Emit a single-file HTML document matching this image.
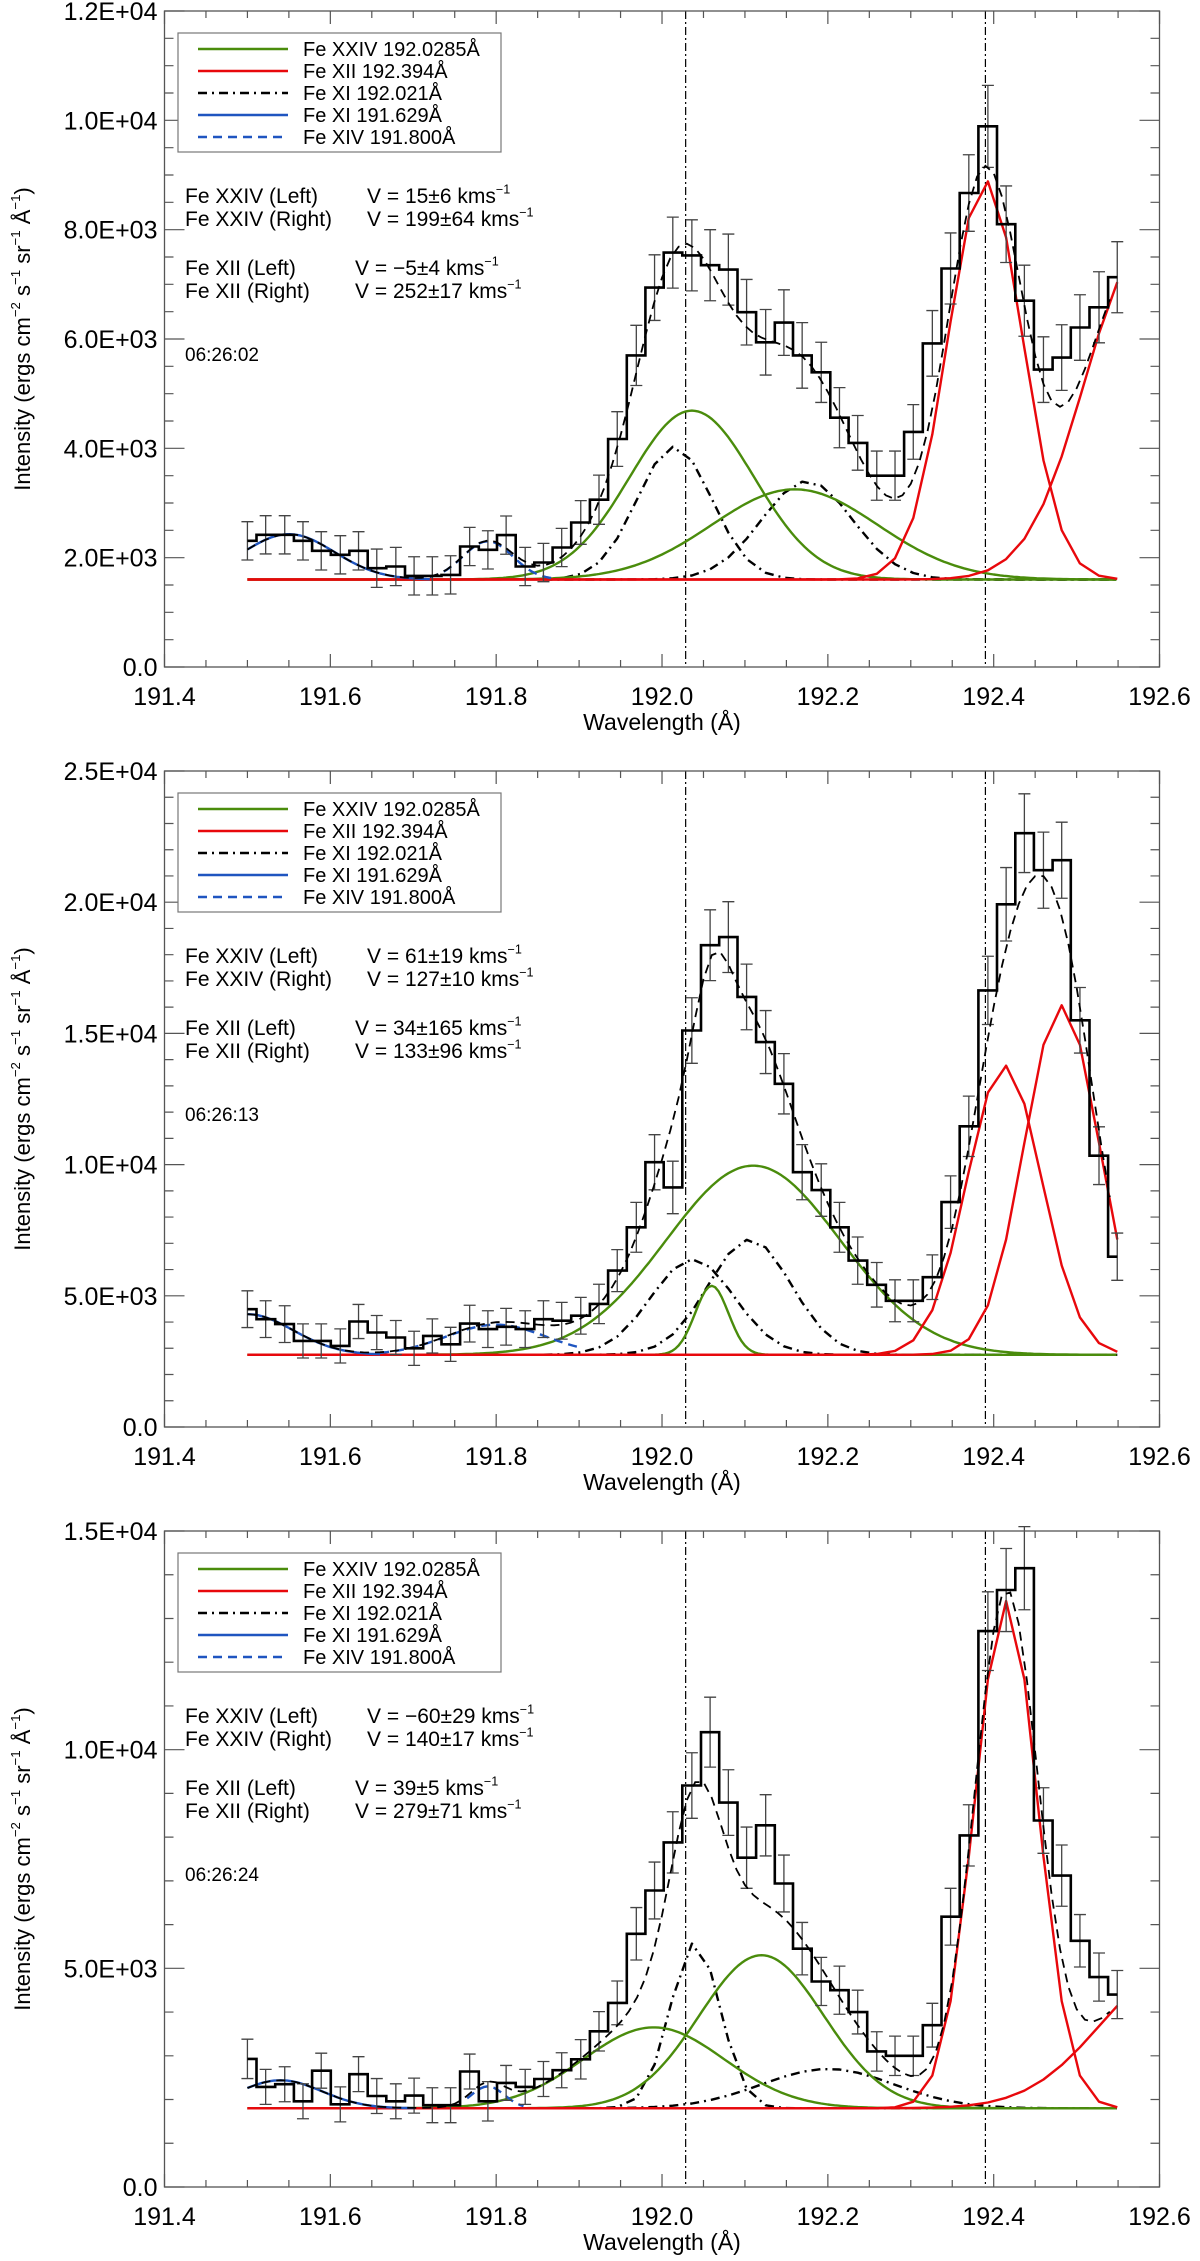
<!DOCTYPE html>
<html><head><meta charset="utf-8">
<style>
html,body{margin:0;padding:0;background:#fff;}
svg{display:block;font-family:"Liberation Sans",Arial,sans-serif;}
</style></head>
<body>
<svg id="fig" width="1200" height="2261" viewBox="0 0 1200 2261" xmlns="http://www.w3.org/2000/svg"></svg>
<script>
// shared wavelength grid (bin centers, Å)
const wavelengths = [191.500,191.522,191.545,191.567,191.589,191.612,191.634,191.656,191.679,191.701,191.723,191.745,191.768,191.790,191.812,191.835,191.857,191.879,191.902,191.924,191.946,191.969,191.991,192.013,192.036,192.058,192.080,192.102,192.125,192.147,192.169,192.192,192.214,192.236,192.259,192.281,192.303,192.326,192.348,192.370,192.393,192.415,192.437,192.460,192.482,192.504,192.527,192.549];
const xTicks = [191.4,191.6,191.8,192.0,192.2,192.4,192.6];
const refLines = [192.0285,192.39];

// Panel 1 (06:26:02)
const p1Intensity = [2308,2418,2418,2308,2125,2052,2125,1807,1838,1667,1667,1685,2204,2143,2412,1838,1911,2186,2644,3060,4170,5700,6940,7580,7530,7350,7270,6490,5940,6300,5700,5390,4560,4100,3500,3500,4300,5920,7290,8670,9890,8100,6700,5440,5660,6210,6580,7130];
const p1Errors = [350,350,350,350,350,350,350,350,350,350,350,350,350,350,350,350,350,350,400,450,500,550,600,650,650,650,650,600,600,600,600,550,550,500,450,450,500,600,650,700,750,700,650,600,600,600,650,650];
const p1Background = 1600;
const p1YTicks = [0,2000,4000,6000,8000,10000,12000];
const p1YLabels = ["0.0","2.0E+03","4.0E+03","6.0E+03","8.0E+03","1.0E+04","1.2E+04"];
// gaussian params: [center, amplitude, sigma]
const p1FeXXIV = [[192.036,3090,0.075],[192.16,1650,0.1]];
const p1FeXII = [[192.39,7300,0.045],[192.58,6000,0.07]];
const p1FeXI192 = [[192.015,2430,0.045],[192.175,1800,0.055]];
const p1FeXI191 = [[191.55,830,0.055]];
const p1FeXIV = [[191.79,700,0.03]];

// Panel 2 (06:26:13)
const p2Intensity = [4490,4110,3920,3280,3280,3090,4020,3600,3410,2998,3470,3150,3940,3730,3820,3730,4110,4050,4240,4690,5960,7610,10090,9130,15110,18360,18670,16390,14670,13080,9710,9030,7610,6340,5420,4810,4810,5710,8570,11460,16640,19920,22630,21220,21600,15500,10340,6490];
const p2Errors = [700,700,700,650,650,650,650,650,650,650,650,650,700,700,700,700,700,700,700,750,800,950,1050,1000,1250,1350,1350,1250,1200,1150,1050,1000,950,900,850,800,800,850,1000,1150,1300,1400,1500,1450,1450,1250,1100,900];
const p2Background = 2750;
const p2YTicks = [0,5000,10000,15000,20000,25000];
const p2YLabels = ["0.0","5.0E+03","1.0E+04","1.5E+04","2.0E+04","2.5E+04"];
const p2FeXXIV = [[192.11,7210,0.105],[192.06,2630,0.02]];
const p2FeXII = [[192.413,11030,0.045],[192.482,13320,0.045]];
const p2FeXI192 = [[192.037,3650,0.05],[192.106,4400,0.05]];
const p2FeXI191 = [[191.5,1550,0.055]];
const p2FeXIV = [[191.80,1150,0.06]];

// Panel 3 (06:26:24)
const p3Intensity = [2930,2290,2350,1960,2660,1890,2580,2080,1960,2090,1870,1870,2640,1960,2380,2290,2470,2670,2920,3560,4210,5790,6780,7880,9180,10400,8790,7530,8270,6940,5450,4700,4500,4000,3100,3000,3000,3700,6180,8040,12710,13650,14150,8380,7120,5630,4800,4400];
const p3Errors = [450,400,400,400,400,400,400,400,400,400,400,400,400,450,400,400,400,400,450,450,500,600,650,700,750,800,750,700,700,650,600,550,550,500,450,450,450,500,650,700,900,950,950,750,700,600,550,550];
const p3Background = 1800;
const p3YTicks = [0,5000,10000,15000];
const p3YLabels = ["0.0","5.0E+03","1.0E+04","1.5E+04"];
const p3FeXXIV = [[191.99,1850,0.085],[192.12,3500,0.075]];
const p3FeXII = [[192.415,11600,0.038],[192.62,3200,0.09]];
const p3FeXI192 = [[192.04,3800,0.03],[192.2,900,0.08]];
const p3FeXI191 = [[191.54,640,0.05]];
const p3FeXIV = [[191.79,500,0.02]];

const NS = "http://www.w3.org/2000/svg";
const svg = document.getElementById('fig');
function mk(tag, attrs, parent){
  const e = document.createElementNS(NS, tag);
  for (const k in attrs) e.setAttribute(k, attrs[k]);
  (parent||svg).appendChild(e);
  return e;
}
const X0 = 164.5, XS = 829.2, PW = 995, PH = 656;
const GREEN = "#4a8c0c", RED = "#e8080c", BLUE = "#1f55c0";
const gauss = (x, p) => p[1]*Math.exp(-0.5*Math.pow((x-p[0])/p[2],2));

function supText(parent, x, y, parts, size){
  const t = mk('text', {x:x, y:y, 'font-size':size, fill:'#000'}, parent);
  parts.forEach(pt => {
    const s = mk('tspan', {}, t);
    if (pt[1]) { s.setAttribute('font-size', size*0.6); s.setAttribute('dy', -size*0.45); }
    else if (pt[2]) { s.setAttribute('dy', size*0.45); }
    s.textContent = pt[0];
  });
  return t;
}

const panels = [
  {top:11, ymax:12000, minor:500, data:p1Intensity, err:p1Errors, bg:p1Background, yt:p1YTicks, yl:p1YLabels, g:p1FeXXIV, r:p1FeXII, k:p1FeXI192, b:p1FeXI191, d:p1FeXIV, bRange:[191.5,191.72], dRange:[191.72,191.87],
   ann:[["Fe XXIV (Left)","15±6"],["Fe XXIV (Right)","199±64"],["Fe XII (Left)","−5±4"],["Fe XII (Right)","252±17"]], time:"06:26:02"},
  {top:771, ymax:25000, minor:1000, data:p2Intensity, err:p2Errors, bg:p2Background, yt:p2YTicks, yl:p2YLabels, g:p2FeXXIV, r:p2FeXII, k:p2FeXI192, b:p2FeXI191, d:p2FeXIV, bRange:[191.5,191.66], dRange:[191.66,191.9],
   ann:[["Fe XXIV (Left)","61±19"],["Fe XXIV (Right)","127±10"],["Fe XII (Left)","34±165"],["Fe XII (Right)","133±96"]], time:"06:26:13"},
  {top:1531, ymax:15000, minor:1000, data:p3Intensity, err:p3Errors, bg:p3Background, yt:p3YTicks, yl:p3YLabels, g:p3FeXXIV, r:p3FeXII, k:p3FeXI192, b:p3FeXI191, d:p3FeXIV, bRange:[191.5,191.7], dRange:[191.765,191.835],
   ann:[["Fe XXIV (Left)","−60±29"],["Fe XXIV (Right)","140±17"],["Fe XII (Left)","39±5"],["Fe XII (Right)","279±71"]], time:"06:26:24"}
];

panels.forEach((P, pi) => {
  const T = P.top, B = T + PH;
  const xs = w => X0 + (w - 191.4) * XS;
  const ys = v => B - v / P.ymax * PH;
  const g = mk('g', {});
  
  

  refLines.forEach((w, i) => {
    const l = mk('line', {x1:xs(w), x2:xs(w), y1:T, y2:B, stroke:'#000', 'stroke-width':1.2, 'stroke-dasharray':'8 3 2 3'}, g);
    
    
  });

  function curve(params, color, dash, name, range, fine){
    params.forEach((p, i) => {
      let pts = [];
      if (fine) {
        for (let w = range[0]; w <= range[1] + 1e-9; w += 0.004) pts.push(xs(w).toFixed(1)+','+ys(P.bg+gauss(w,p)).toFixed(1));
      } else {
        wavelengths.forEach(w => { if (w >= range[0]-1e-6 && w <= range[1]+1e-6) pts.push(xs(w).toFixed(1)+','+ys(P.bg+gauss(w,p)).toFixed(1)); });
      }
      const pl = mk('polyline', {points:pts.join(' '), fill:'none', stroke:color, 'stroke-width':2.4, 'stroke-dasharray':dash||'none', 'stroke-linejoin':'round'}, g);
      
      
    });
  }
  curve(P.k, '#000', '9 5 2 5', 'fe-xi-192021-fit', [191.85,192.549], false);
  curve(P.g, GREEN, null, 'fe-xxiv-fit', [191.5,192.549], true);
  curve(P.r, RED, null, 'fe-xii-fit', [191.5,192.549], false);
  curve(P.b, BLUE, null, 'fe-xi-191629-fit', P.bRange, true);
  curve(P.d, BLUE, '9 6', 'fe-xiv-fit', P.dRange, true);

  wavelengths.forEach((w, i) => {
    const x = xs(w), v = P.data[i], e = P.err[i];
    const eb = mk('path', {d:`M${x},${ys(v-e)}V${ys(v+e)}M${x-6},${ys(v-e)}H${x+6}M${x-6},${ys(v+e)}H${x+6}`, stroke:'#444', 'stroke-width':1.3, fill:'none'}, g);
    
    
  });

  let d = '';
  wavelengths.forEach((w, i) => {
    const prev = i === 0 ? w : wavelengths[i-1];
    const next = i === wavelengths.length-1 ? w : wavelengths[i+1];
    const xl = i === 0 ? xs(w) : xs((w+prev)/2);
    const xr = i === wavelengths.length-1 ? xs(w) : xs((w+next)/2);
    d += (i === 0 ? 'M' : 'L') + xl.toFixed(1) + ',' + ys(P.data[i]).toFixed(1) + 'L' + xr.toFixed(1) + ',' + ys(P.data[i]).toFixed(1);
  });
  const h = mk('path', {d:d, fill:'none', stroke:'#000', 'stroke-width':2.6}, g);
  
  

  const tp = [];
  for (let w = 191.5; w <= 192.5495; w += 0.01) {
    let s = P.bg;
    [].concat(P.g, P.r, P.k, P.b, P.d).forEach(p => s += gauss(w,p));
    tp.push(xs(w).toFixed(1)+','+ys(s).toFixed(1));
  }
  const tl = mk('polyline', {points:tp.join(' '), fill:'none', stroke:'#000', 'stroke-width':1.8, 'stroke-dasharray':'9 6'}, g);
  
  

  const fr = mk('rect', {x:X0, y:T, width:PW, height:PH, fill:'none', stroke:'#555', 'stroke-width':1.3}, g);
  
  

  for (let w = 191.4; w <= 192.6001; w += 0.05) {
    const major = Math.abs(Math.round(w*5) - w*5) < 1e-6;
    const L = major ? 13 : 7, x = xs(w);
    mk('path', {d:`M${x},${B}V${B-L}M${x},${T}V${T+L}`, stroke:'#555', 'stroke-width':1.2}, g);
  }
  xTicks.forEach(w => {
    const t = mk('text', {x:xs(w), y:B+38, 'font-size':25, 'text-anchor':'middle', fill:'#000'}, g);
    
    
    t.textContent = w.toFixed(1);
  });
  const xt = mk('text', {x:X0+PW/2, y:B+63, 'font-size':23, 'text-anchor':'middle', fill:'#000'}, g);
  
  
  xt.textContent = 'Wavelength (Å)';

  for (let v = 0; v <= P.ymax + 1e-6; v += P.minor) {
    const major = P.yt.indexOf(v) >= 0;
    const L = major ? 20 : 9, y = ys(v);
    mk('path', {d:`M${X0},${y}H${X0+L}M${X0+PW},${y}H${X0+PW-L}`, stroke:'#555', 'stroke-width':1.2}, g);
  }
  P.yt.forEach((v, i) => {
    const t = mk('text', {x:X0-7, y:ys(v)+9, 'font-size':25, 'text-anchor':'end', fill:'#000'}, g);
    
    
    t.textContent = P.yl[i];
  });
  const yt = supText(g, 0, 0, [["Intensity (ergs cm"],["−2",1],[" s",0,1],["−1",1],[" sr",0,1],["−1",1],[" Å",0,1],["−1",1],[")",0,1]], 22);
  yt.setAttribute('text-anchor', 'middle');
  yt.setAttribute('transform', `translate(30,${T+PH/2}) rotate(-90)`);
  
  

  const lg = mk('g', {}, g);
  
  
  mk('rect', {x:178, y:T+22, width:323, height:119, fill:'#fff', stroke:'#777', 'stroke-width':1.2}, lg);
  const entries = [["Fe XXIV 192.0285Å",GREEN,'none'],["Fe XII 192.394Å",RED,'none'],["Fe XI 192.021Å","#000",'9 5 2 5'],["Fe XI 191.629Å",BLUE,'none'],["Fe XIV 191.800Å",BLUE,'9 6']];
  entries.forEach((e, i) => {
    const y = T + 38 + i*22;
    const le = mk('g', {}, lg);
    
    
    mk('line', {x1:198, x2:288, y1:y, y2:y, stroke:e[1], 'stroke-width':2.4, 'stroke-dasharray':e[2]}, le);
    const t = mk('text', {x:303, y:y+7, 'font-size':20, fill:'#000'}, le);
    t.textContent = e[0];
  });

  const ay = [184, 207, 256, 279];
  P.ann.forEach((a, i) => {
    const t1 = mk('text', {x:185, y:T+ay[i]+8, 'font-size':21, fill:'#000'}, g);
    
    
    t1.textContent = a[0];
    const vx = i < 2 ? 367 : 355;
    const t2 = supText(g, vx, T+ay[i]+8, [["V = " + a[1] + " kms"],["−1",1]], 21);
    
    
  });
  const tm = mk('text', {x:185, y:T+350, 'font-size':19, fill:'#000'}, g);
  
  
  tm.textContent = P.time;
});
</script>
</body></html>
